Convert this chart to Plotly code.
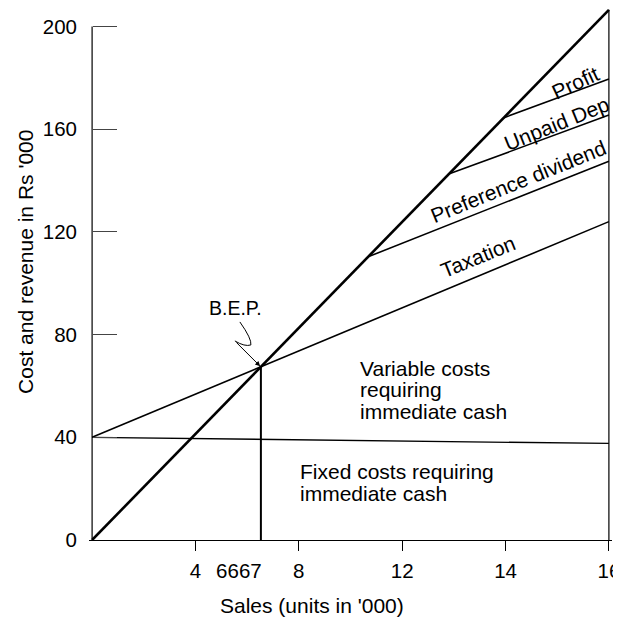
import plotly.graph_objects as go

# ---- axis ticks (the sales axis is drawn with evenly spaced ticks, not to scale) ----
x_tick_pos = [1, 2, 3, 4, 5]
x_tick_labels = ["4", "8", "12", "14", "16"]
bep_label_pos = 1.42
bep_label = "6667"
y_tick_vals = [0, 40, 80, 120, 160, 200]

# ---- lines (x in axis-position units, y in Rs '000) ----
sales_x = [0, 5.0]
sales_y = [0, 206.5]
fixed_x = [0, 5.0]
fixed_y = [40, 37.6]
variable_x = [0, 5.0]
variable_y = [40, 124]
taxation_x = [2.67, 5.0]
taxation_y = [110.3, 147.5]
pref_x = [3.45, 5.0]
pref_y = [142.5, 165.5]
dep_x = [3.98, 5.0]
dep_y = [164.4, 179.5]
bep_x = 1.633
bep_y = 67.4

FONT = "Liberation Sans, Arial, Helvetica, sans-serif"
fig = go.Figure()


def line(x, y, w):
    fig.add_trace(go.Scatter(x=x, y=y, mode="lines", line=dict(color="black", width=w),
                             hoverinfo="skip", showlegend=False))


line(fixed_x, fixed_y, 1.3)
line(variable_x, variable_y, 1.6)
line(taxation_x, taxation_y, 1.6)
line(pref_x, pref_y, 1.6)
line(dep_x, dep_y, 1.6)
line([bep_x, bep_x], [0, bep_y], 2)
line([sales_x[-1], sales_x[-1]], [0, sales_y[-1]], 1.2)
line(sales_x, sales_y, 2.6)

# y axis line only up to 200
fig.add_shape(type="line", x0=0, x1=0, y0=0, y1=y_tick_vals[-1], xref="x", yref="y",
              line=dict(color="black", width=1.2))

# B.E.P. squiggle (pixel offsets from the break-even point)
fig.add_shape(type="path", xref="x", yref="y", xsizemode="pixel", ysizemode="pixel",
              xanchor=bep_x, yanchor=bep_y,
              path="M -21,45 Q -9,28 -10,22 Q -16,20 -26,26",
              line=dict(color="black", width=1))

ann = []
ann.append(dict(x=bep_x, y=bep_y, ax=-26, ay=-26, text="", showarrow=True, arrowhead=2,
                arrowsize=1, arrowwidth=1, standoff=1, arrowcolor="black"))


def txt(x, y, s, angle=0, size=21, xanchor="center", xref="x", yref="y"):
    ann.append(dict(x=x, y=y, xref=xref, yref=yref, text=s, showarrow=False, textangle=angle,
                    xanchor=xanchor, yanchor="middle",
                    font=dict(family=FONT, size=size, color="black")))


txt(1.391, 90.4, "B.E.P.", size=19.5)
txt(3.735, 110.3, "Taxation", -22)
txt(4.123, 139.6, "Preference dividend", -22)
txt(4.497, 162.4, "Unpaid Dep", -22)
txt(4.681, 178.0, "Profit", -25)
txt(2.574, 66.9, "Variable costs", xanchor="left")
txt(2.574, 58.6, "requiring", xanchor="left")
txt(2.574, 50.2, "immediate cash", xanchor="left")
txt(1.995, 26.6, "Fixed costs requiring", xanchor="left")
txt(1.995, 18.3, "immediate cash", xanchor="left")
txt(2.123, -0.1222, "Sales (units in '000)", yref="paper")
txt(-0.1205, 108.3, "Cost and revenue in Rs '000", -90, xref="paper")

# the page body adds an 8 px offset, so margins are shifted by that amount
fig.update_layout(
    template="none",
    width=621, height=623,
    margin=dict(l=81, r=17, t=0, b=91, pad=0),
    paper_bgcolor="white", plot_bgcolor="white",
    annotations=ann,
    font=dict(family=FONT, size=20, color="black"),
    xaxis=dict(range=[-0.03, 5.03], automargin=False, showgrid=False, zeroline=False,
               showline=True, linecolor="black", linewidth=1.2,
               tickmode="array", tickvals=x_tick_pos[:1] + [bep_label_pos] + x_tick_pos[1:],
               ticktext=x_tick_labels[:1] + [bep_label] + x_tick_labels[1:],
               ticks="", ticklabelstandoff=12,
               minor=dict(tickvals=x_tick_pos, ticks="outside", ticklen=10, tickcolor="black",
                          tickwidth=1, showgrid=False),
               tickfont=dict(family=FONT, size=20.5, color="black")),
    yaxis=dict(range=[0, 207.2], automargin=False, showgrid=False, zeroline=False,
               showline=False, anchor="free", position=0.0057,
               tickmode="array", tickvals=y_tick_vals, ticks="inside", ticklen=24,
               tickcolor="#444", tickwidth=1, ticklabelstandoff=15,
               tickfont=dict(family=FONT, size=20.5, color="black")),
)

fig.write_html("out.html")
